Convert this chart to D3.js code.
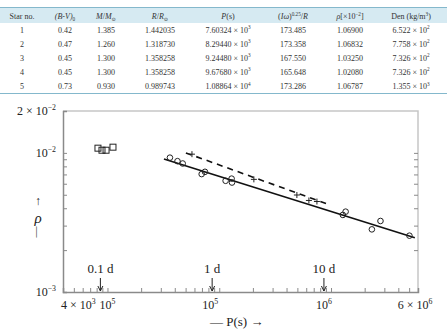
<!DOCTYPE html>
<html>
<head>
<meta charset="utf-8">
<script src="https://cdn.jsdelivr.net/npm/d3@7"></script>
<style>
body { margin: 0; background: #fff; }
svg { display: block; font-family: "Liberation Serif", "DejaVu Serif", serif; }
</style>
</head>
<body>
<svg id="chart" width="447" height="335"></svg>
<script>
// table values
var headers = ["Star no.", "*(B-V)*_{0}", "*M*/*M*_{⊙}", "*R*/*R*_{⊙}", "*P*(s)", "(*Iω*)^{0.25}/*R*", "*ρ*[×10^{−2}]", "Den (kg/m^{3})"];
var starNo = ["1", "2", "3", "4", "5"];
var bv = ["0.42", "0.47", "0.45", "0.45", "0.73"];
var mass = ["1.385", "1.260", "1.300", "1.300", "0.930"];
var radius = ["1.442035", "1.318730", "1.358258", "1.358258", "0.989743"];
var period = ["7.60324 × 10^{3}", "8.29440 × 10^{3}", "9.24480 × 10^{3}", "9.67680 × 10^{3}", "1.08864 × 10^{4}"];
var iw = ["173.485", "173.358", "167.550", "165.648", "173.286"];
var rho = ["1.06900", "1.06832", "1.03250", "1.02080", "1.06787"];
var den = ["6.522 × 10^{2}", "7.758 × 10^{2}", "7.326 × 10^{2}", "7.326 × 10^{2}", "1.355 × 10^{3}"];

// plot values: period P (s) vs rho
var squareP = [8220, 8930, 9710, 11200];
var squareRho = [0.01081, 0.01045, 0.01045, 0.01099];
var circleP = [36200, 42300, 47100, 69600, 74500, 114000, 129000, 130000, 1276000, 1351000, 2320000, 2770000, 5030000];
var circleRho = [0.00924, 0.00872, 0.00839, 0.00704, 0.00731, 0.00630, 0.00653, 0.00612, 0.00358, 0.00378, 0.00282, 0.00324, 0.00254];
var plusP = [57000, 204000, 495000, 634000, 748000];
var plusRho = [0.00979, 0.00645, 0.00498, 0.00455, 0.00447];
var solidP = [32000, 5620000];
var solidRho = [0.00902, 0.00245];
var dashP = [50300, 977000];
var dashRho = [0.0100, 0.00422];
var xTickVals = [4e3, 1e4, 1e5, 1e6, 6e6];
var xTickText = ["4 × 10^{3}", "10^{5}", "10^{5}", "10^{6}", "6 × 10^{6}"];
var yTickVals = [2e-2, 1e-2, 1e-3];
var yTickText = ["2 × 10^{−2}", "10^{−2}", "10^{−3}"];
var markP = [8640, 86400, 864000];
var markText = ["0.1 d", "1 d", "10 d"];

var svg = d3.select("#chart");

// write a string with ^{sup}, _{sub} and *italic* parts as tspans
function rich(t, str, size) {
  var parts = str.split(/(\^\{[^}]*\}|_\{[^}]*\}|\*[^*]*\*)/).filter(function(s) { return s !== ""; });
  var shift = 0;
  parts.forEach(function(p) {
    var ts = t.append("tspan");
    if (p.indexOf("^{") === 0) {
      ts.attr("dy", -size * 0.4 - shift).attr("font-size", size * 0.65).text(p.slice(2, -1));
      shift = -size * 0.4;
    } else if (p.indexOf("_{") === 0) {
      ts.attr("dy", size * 0.25 - shift).attr("font-size", size * 0.65).text(p.slice(2, -1));
      shift = size * 0.25;
    } else {
      if (shift !== 0) ts.attr("dy", -shift);
      shift = 0;
      if (p[0] === "*") ts.attr("font-style", "italic").text(p.slice(1, -1));
      else ts.text(p);
    }
  });
}

// ---- table ----
var colX = [22, 65, 106, 160, 228, 293, 350, 411];
var rowY = [32.5, 46.5, 60.5, 74.5, 89];
var columns = [starNo, bv, mass, radius, period, iw, rho, den];

svg.append("rect").attr("x", 0).attr("y", 8).attr("width", 447).attr("height", 15).attr("fill", "#d6eaf2");
svg.append("line").attr("x1", 0).attr("x2", 447).attr("y1", 7.5).attr("y2", 7.5).attr("stroke", "#84b8cc").attr("stroke-width", 1);
svg.append("line").attr("x1", 0).attr("x2", 447).attr("y1", 93.5).attr("y2", 93.5).attr("stroke", "#84b8cc").attr("stroke-width", 1);

headers.forEach(function(h, i) {
  var t = svg.append("text").attr("x", colX[i]).attr("y", 19).attr("text-anchor", "middle")
    .attr("font-size", 8).attr("fill", "#333");
  rich(t, h, 8);
});
columns.forEach(function(col, i) {
  col.forEach(function(v, j) {
    var t = svg.append("text").attr("x", colX[i]).attr("y", rowY[j]).attr("text-anchor", "middle")
      .attr("font-size", 8).attr("fill", "#333");
    rich(t, v, 8);
  });
});

// ---- plot ----
var x = d3.scaleLog().domain([4e3, 6e6]).range([63, 418]);
var y = d3.scaleLog().domain([1e-3, 2e-2]).range([292, 111]);

// frame top/right
svg.append("path").attr("d", "M63,111H418V292").attr("fill", "none").attr("stroke", "#c6c6c6").attr("stroke-width", 1.5);

var xMinor = [];
[1e3, 1e4, 1e5, 1e6].forEach(function(d) {
  for (var k = 1; k < 10; k++) {
    var v = d * k;
    if (v > 4e3 && v < 6e6) xMinor.push(v);
  }
});
var yMinor = [];
for (var k = 2; k <= 10; k++) yMinor.push(k * 1e-3);

var xAxis = svg.append("g").attr("transform", "translate(0,292)")
  .call(d3.axisBottom(x).tickValues(xMinor).tickSize(-4).tickFormat(""));
var yAxis = svg.append("g").attr("transform", "translate(63,0)")
  .call(d3.axisLeft(y).tickValues(yMinor).tickSize(-4).tickFormat(""));
var yRight = svg.append("g").attr("transform", "translate(418,0)")
  .call(d3.axisRight(y).tickValues(yMinor).tickSize(-4).tickFormat(""));
yRight.select(".domain").remove();
[xAxis, yAxis, yRight].forEach(function(g) {
  g.selectAll("line").attr("stroke", "#8a8a8a");
  g.select(".domain").attr("stroke", "#8a8a8a").attr("stroke-width", 1.5);
});

// tick labels
var xLabelShift = [-2, 0, -9, -7, -3];
xTickVals.forEach(function(v, i) {
  var t = svg.append("text").attr("x", x(v) + xLabelShift[i]).attr("y", 309)
    .attr("text-anchor", i === 0 ? "start" : "middle").attr("font-size", 12).attr("fill", "#222");
  rich(t, xTickText[i], 12);
});
yTickVals.forEach(function(v, i) {
  var t = svg.append("text").attr("x", 56).attr("y", y(v) + 4)
    .attr("text-anchor", "end").attr("font-size", 12).attr("fill", "#222");
  rich(t, yTickText[i], 12);
});

// axis titles
svg.append("text").attr("x", 210).attr("y", 326).attr("font-size", 13).attr("fill", "#222").text("— P(s) →");
svg.append("text").attr("x", 38).attr("y", 205).attr("text-anchor", "middle").attr("font-size", 12).attr("fill", "#222").text("↑");
svg.append("text").attr("x", 38).attr("y", 223).attr("text-anchor", "middle").attr("font-size", 15)
  .attr("font-style", "italic").attr("fill", "#222").text("ρ");
svg.append("text").attr("transform", "translate(37.5,232) rotate(90)").attr("text-anchor", "middle")
  .attr("dy", 4).attr("font-size", 11).attr("fill", "#222").text("—");

// period marks
markP.forEach(function(p, i) {
  var mx = x(p);
  svg.append("text").attr("x", mx).attr("y", 273).attr("text-anchor", "middle")
    .attr("font-size", 13).attr("fill", "#222").text(markText[i]);
  svg.append("line").attr("x1", mx).attr("x2", mx).attr("y1", 278).attr("y2", 291)
    .attr("stroke", "#222").attr("stroke-width", 1);
  svg.append("path").attr("d", "M" + (mx - 2.5) + ",286L" + mx + ",291L" + (mx + 2.5) + ",286")
    .attr("fill", "none").attr("stroke", "#222").attr("stroke-width", 1);
});

// fit lines
var line = d3.line().x(function(d) { return x(d[0]); }).y(function(d) { return y(d[1]); });
svg.append("path").attr("d", line(d3.zip(solidP, solidRho)))
  .attr("fill", "none").attr("stroke", "#111").attr("stroke-width", 1.6);
svg.append("path").attr("d", line(d3.zip(dashP, dashRho)))
  .attr("fill", "none").attr("stroke", "#111").attr("stroke-width", 1.6).attr("stroke-dasharray", "6,5");

// markers
svg.selectAll(".sq").data(d3.zip(squareP, squareRho)).enter().append("rect")
  .attr("x", function(d) { return x(d[0]) - 3; })
  .attr("y", function(d) { return y(d[1]) - 3; })
  .attr("width", 6).attr("height", 6)
  .attr("fill", "none").attr("stroke", "#222").attr("stroke-width", 1);

svg.selectAll(".ci").data(d3.zip(circleP, circleRho)).enter().append("circle")
  .attr("cx", function(d) { return x(d[0]); })
  .attr("cy", function(d) { return y(d[1]); })
  .attr("r", 2.8)
  .attr("fill", "none").attr("stroke", "#222").attr("stroke-width", 1);

svg.selectAll(".pl").data(d3.zip(plusP, plusRho)).enter().append("path")
  .attr("d", function(d) {
    var px = x(d[0]), py = y(d[1]);
    return "M" + (px - 3) + "," + py + "H" + (px + 3) + "M" + px + "," + (py - 3) + "V" + (py + 3);
  })
  .attr("fill", "none").attr("stroke", "#222").attr("stroke-width", 1);
</script>
</body>
</html>
